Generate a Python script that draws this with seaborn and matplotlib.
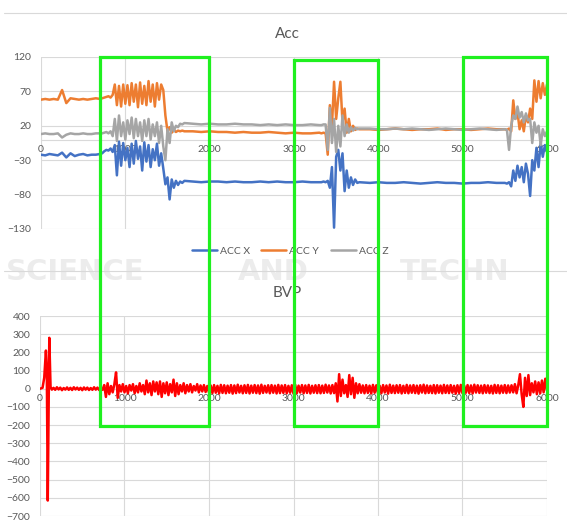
import numpy as np
import pandas as pd
import seaborn as sns
import matplotlib.pyplot as plt
from matplotlib.patches import Rectangle
from matplotlib.lines import Line2D

# ---- data ----
# sample index of the accelerometer points (dense where the signal is busy)
ACC_T = np.concatenate([
    np.arange(0, 701, 50),
    np.arange(725, 1701, 25),
    np.arange(1800, 3301, 100),
    np.arange(3325, 3776, 25),
    np.arange(3900, 5401, 100),
    np.arange(5500, 6001, 25),
])

ACC_X = [
    -22, -23, -21, -22, -23, -19, -26, -20, -24, -22, -21, -23, -22, -22, -21,
    -20, -17, -15, -16, -13, -18, -8, -52, -3, -38, -5, -30, -12, -40, -6, -35, -2, -28, -10, -45,
    -4, -32, -8, -40, -14, -30, -6, -38, -20, -42, -65, -55, -87, -58, -70, -60, -66, -61, -63, -60,
    -61, -62, -61, -61, -62, -61, -62, -62, -61, -62, -61, -62, -62, -61, -62, -62,
    -62, -61, -62, -60, -70, -40, -128, -25, -15, -45, -20, -75, -45, -70, -55, -66, -58, -63, -62,
    -63, -62, -63, -63, -62, -63, -64, -63, -62, -63, -63, -64, -63, -63, -62, -63,
    -63, -64, -62, -68, -45, -60, -38, -55, -40, -62, -35, -50, -82, -30, -45, -12, -40, -5, -25, -8, -18,
]
ACC_Y = [
    58, 59, 58, 59, 58, 72, 53, 60, 59, 58, 59, 58, 59, 60, 59,
    60, 61, 62, 63, 61, 65, 80, 50, 78, 48, 80, 52, 79, 50, 82, 55, 80, 47, 83, 52,
    78, 50, 85, 55, 80, 48, 82, 58, 80, 72, 35, 12, 18, 10, 14, 11, 13, 12, 13, 12,
    12, 11, 12, 11, 11, 10, 11, 10, 10, 11, 10, 9, 10, 9, 9, 10,
    9, 10, 9, -22, 50, 20, 84, 30, 60, 84, 25, 45, 10, 30, 12, 20, 14, 16, 15,
    15, 14, 15, 16, 15, 14, 15, 15, 16, 14, 15, 15, 14, 15, 16, 15,
    15, 14, 16, 12, 57, 30, 40, 15, 28, 12, 35, 25, 45, 30, 86, 55, 85, 60, 82, 65, 80,
]
ACC_Z = [
    8, 9, 8, 8, 9, 3, 7, 9, 8, 8, 9, 8, 8, 9, 9,
    9, 10, 11, 9, 12, 5, 30, -2, 35, 5, 25, 0, 28, 8, 32, 2, 30, 5, 25, -2,
    28, 5, 30, 0, 22, 5, 25, -5, 20, -10, -30, 15, -5, 25, 12, 20, 18, 23, 22, 24,
    23, 22, 23, 22, 22, 23, 22, 22, 21, 22, 21, 22, 21, 21, 22, 21,
    21, 22, 22, -15, 46, -5, 30, -18, 20, -10, 35, 5, 22, 10, 18, 13, 17, 15, 16,
    16, 15, 15, 16, 15, 16, 15, 14, 15, 16, 15, 14, 15, 16, 15, 14,
    15, 14, -15, 20, 35, 30, 48, 32, 40, 25, 38, 28, 30, -5, 25, 10, 20, -8, 15, 5, 12,
]

# BVP: start artefact, then one value every 20 samples from 160 on
BVP_HEAD_T = [0, 30, 50, 70, 80, 92, 110, 125, 140]
BVP_HEAD = [0, 5, 60, 210, 120, -615, 280, 10, -5]
BVP_REST = [5, -6, 8, -4, 6, -8, 4, -5, 7, -6, 5, -7, 8, -4, 6, -6, 5, -8, 7, -5,
            6, -7, 4, -6, 8, -5, 6, -7, 5, -6]
BVP_TASK1 = [20, -45, 30, -30, 15, -20, 25, 90, -50, 20, -15, 25, -20, 15, -25, 20, -10, 25, -25, 15,
             -20, 30, -15, 20, -30, 45, -20, 30, -35, 40, -15, 35, -30, 40, -45, 30, -25, 35, -35, 25,
             -20, 50, -40, 30, -30, 20, -15, 30, -25, 20, -15, 25, -20, 15, -10, 25, -20, 18, -15, 20,
             -18, 15]
BVP_CALM1 = [-21, 18, -24, 20, -22, 16, -26, 21, -23, 19, -25, 17, -22, 20, -27, 18, -24, 22, -21, 16,
             -25, 19, -23, 21, -26, 17, -22, 20, -24, 18, -27, 22, -23, 16, -21, 19, -25, 20, -22, 17,
             -26, 21, -24, 18, -23, 20, -25, 16, -22, 19, -27, 22, -24, 17, -21, 20, -25, 18, -23, 21,
             -26, 16, -22, 19, -24, 20, -25, 17, -23, 22, -21, 18, -26, 20, -24]
BVP_TASK2 = [30, -70, 80, -40, 50, -25, 20, -45, 75, -30, 60, -50, 30, -25, 25]
BVP_CALM2 = [-22, 18, -25, 20, -23, 17, -26, 21, -22, 19, -24, 16, -25, 20, -21, 18, -27, 22, -23, 17,
             -24, 19, -22, 20, -26, 16, -23, 21, -25, 18, -22, 20, -24, 17, -27, 19, -21, 22, -25, 18,
             -23, 16, -24, 20, -26, 19, -22, 17, -25, 21, -23, 18, -24, 20, -22, 16, -27, 19, -23, 21,
             -25, 17, -22, 20, -24, 18, -26, 22, -21, 19, -23, 17, -25, 20, -22, 18, -24, 16, -26, 21,
             -23, 19, -25, 17, -22, 20, -24, 18, -21, 19]
BVP_TASK3 = [-20, 25, -25, 20, 80, -30, -100, 60, -40, 75, -35, 30, -20, 40, -30, 35, -25, 45, -20, 55, -10]

X_TICKS = [0, 1000, 2000, 3000, 4000, 5000, 6000]
ACC_TICKS = [-130, -80, -30, 20, 70, 120]
BVP_TICKS = list(range(-700, 401, 100))

ACC_COLORS = {"ACC X": "#4472c4", "ACC Y": "#ed7d31", "ACC Z": "#a5a5a5"}
TEXT = "#595959"
GRID = "#d9d9d9"

sns.set_theme(style="whitegrid")
plt.rcParams['font.family'] = ['Lato', 'DejaVu Sans']

W, H = 567, 524
fig = plt.figure(figsize=(W / 100, H / 100), dpi=100)


def px_box(l, t, r, b):
    return [l / W, 1 - b / H, (r - l) / W, (b - t) / H]


ax1 = fig.add_axes(px_box(41, 57, 547, 229))
ax2 = fig.add_axes(px_box(40, 316, 547, 516))

acc = pd.DataFrame({"t": ACC_T, "ACC X": ACC_X, "ACC Y": ACC_Y, "ACC Z": ACC_Z})
acc = acc.melt(id_vars="t", var_name="axis", value_name="value")
sns.lineplot(data=acc, x="t", y="value", hue="axis", palette=ACC_COLORS,
             estimator=None, linewidth=1.8, zorder=3, ax=ax1)

bvp_vals = BVP_REST + BVP_TASK1 + BVP_CALM1 + BVP_TASK2 + BVP_CALM2 + BVP_TASK3
bvp = pd.DataFrame({"t": np.concatenate([BVP_HEAD_T, 160 + 20 * np.arange(len(bvp_vals))]),
                    "value": BVP_HEAD + bvp_vals})
sns.lineplot(data=bvp, x="t", y="value", color="#ff0000", estimator=None,
             linewidth=1.8, zorder=3, ax=ax2)


def excel_style(ax, yticks):
    ax.set_facecolor("none")
    ax.set_xlim(0, 6000)
    ax.set_ylim(yticks[0], yticks[-1])
    ax.set_xticks(X_TICKS)
    ax.set_yticks(yticks)
    ax.set_xlabel("")
    ax.set_ylabel("")
    ax.grid(True, color=GRID, linewidth=0.8)
    for side in ["top", "right", "left"]:
        ax.spines[side].set_visible(False)
    ax.spines["bottom"].set_position(("data", 0))
    ax.spines["bottom"].set_color(GRID)
    ax.spines["bottom"].set_linewidth(0.8)
    ax.spines["bottom"].set_zorder(1)
    ax.tick_params(axis="both", length=0, labelsize=7.5, labelcolor=TEXT)
    ax.tick_params(axis="y", pad=7)
    ax.tick_params(axis="x", pad=4)


excel_style(ax1, ACC_TICKS)
excel_style(ax2, BVP_TICKS)

sns.move_legend(ax1, "center", bbox_to_anchor=(0.492, -0.128), ncol=3, frameon=False,
                title=None, fontsize=7.5, handlelength=2.4, handletextpad=0.3,
                columnspacing=1.1)
for t in ax1.get_legend().get_texts():
    t.set_color(TEXT)

fig.text(287 / W, 1 - 34 / H, "Acc", fontsize=11, color=TEXT, ha="center", va="center")
fig.text(287 / W, 1 - 293 / H, "BVP", fontsize=11, color=TEXT, ha="center", va="center")

# chart borders
for y in [13, 271]:
    fig.add_artist(Line2D([4 / W, 1], [1 - y / H] * 2, color=GRID, linewidth=0.8,
                          transform=fig.transFigure))

# publisher watermark band (only the visible part of it), one word at a time
for x, word in [(6, "SCIENCE"), (238, "AND"), (400, "TECHN")]:
    fig.text(x / W, 1 - 280 / H, word, fontsize=21, fontweight="bold",
             family="DejaVu Sans", color="#ececec", va="baseline", ha="left", zorder=0)

# highlighted task windows
for l, t, r, b in [(100, 57, 209, 426), (294, 60, 378, 426), (463, 57, 547, 426)]:
    fig.add_artist(Rectangle((l / W, 1 - b / H), (r - l) / W, (b - t) / H,
                             transform=fig.transFigure, fill=False,
                             edgecolor="#1ff01f", linewidth=2.3, zorder=20))

fig.savefig("out.png", dpi=100)
